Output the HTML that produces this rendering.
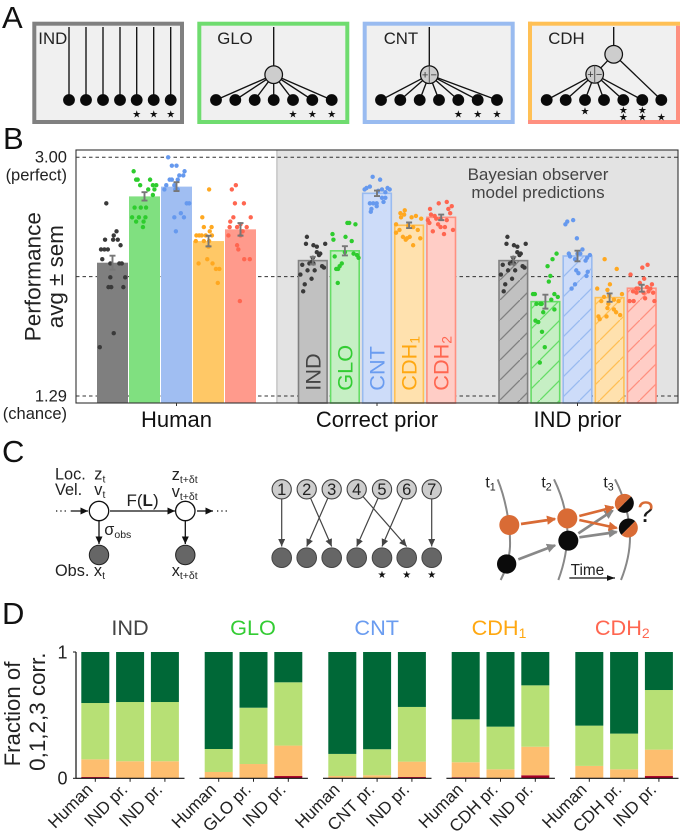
<!DOCTYPE html>
<html lang="en">
<head>
<meta charset="utf-8">
<title>Bayesian observer model figure</title>
<style>
html,body{margin:0;padding:0;background:#fff;}
svg{display:block;font-family:"Liberation Sans",sans-serif;}
</style>
</head>
<body>
<svg id="fig" xmlns="http://www.w3.org/2000/svg" width="680" height="834" viewBox="0 0 680 834">
<defs>
<marker id="ah" markerWidth="9" markerHeight="8" refX="7.5" refY="3.5" orient="auto" markerUnits="userSpaceOnUse"><path d="M0,0L7.5,3.5L0,7z" fill="#111"/></marker>
<marker id="ahd" markerWidth="9" markerHeight="8" refX="7.5" refY="3.5" orient="auto" markerUnits="userSpaceOnUse"><path d="M0,0L7.5,3.5L0,7z" fill="#444"/></marker>
<marker id="aho" markerWidth="4" markerHeight="4" refX="3" refY="1.75" orient="auto"><path d="M0,0L3.5,1.75L0,3.5z" fill="#d96b35"/></marker>
<marker id="ahg" markerWidth="4" markerHeight="4" refX="3" refY="1.75" orient="auto"><path d="M0,0L3.5,1.75L0,3.5z" fill="#888"/></marker>
<marker id="ahb" markerWidth="8" markerHeight="8" refX="7" refY="2.5" orient="auto"><path d="M0,0L7,2.5L0,5z" fill="#111"/></marker>
<linearGradient id="qgrad" x1="0" y1="0" x2="0" y2="1"><stop offset="0.38" stop-color="#d96b35"/><stop offset="0.43" stop-color="#1a1a1a"/></linearGradient>
</defs>

<g font-size="31" fill="#111">
<text x="2" y="28">A</text>
<text x="3" y="149">B</text>
<text x="2" y="462">C</text>
<text x="2" y="624">D</text>
</g>

<g id="panelA">
<rect x="34.3" y="23.7" width="147.7" height="98.3" fill="#f0f0f0" stroke="#808080" stroke-width="4"/>
<rect x="199.3" y="23.7" width="148" height="98.3" fill="#f0f0f0" stroke="#6fdc6f" stroke-width="4"/>
<rect x="364.7" y="23.7" width="148" height="98.3" fill="#f0f0f0" stroke="#99bbf0" stroke-width="4"/>
<rect x="530" y="23.7" width="148" height="98.3" fill="#f0f0f0"/>
<rect x="528" y="21.7" width="152" height="4" fill="#ffc055"/>
<rect x="528" y="21.7" width="4" height="102" fill="#ffc055"/>
<rect x="676" y="25.7" width="4" height="98" fill="#ff9080"/>
<rect x="528" y="120" width="152" height="4" fill="#ff9080"/>
<g font-size="16.8" fill="#222">
<text x="38.3" y="44">IND</text>
<text x="217.3" y="44">GLO</text>
<text x="383.7" y="44">CNT</text>
<text x="548.3" y="44">CDH</text>
</g>
</g>

<g id="panelB"></g>

<g id="panelC1" fill="#111">
<g stroke="#111" stroke-width="1.3" fill="none">
<line x1="56" y1="511" x2="68" y2="511" stroke-dasharray="1.3 3"/>
<line x1="70.7" y1="511" x2="88" y2="511" marker-end="url(#ah)"/>
<line x1="110" y1="511" x2="175" y2="511" marker-end="url(#ah)"/>
<line x1="197" y1="511" x2="213" y2="511" marker-end="url(#ah)"/>
<line x1="217" y1="511" x2="229" y2="511" stroke-dasharray="1.3 3"/>
<line x1="99" y1="521" x2="99" y2="544" marker-end="url(#ah)"/>
<line x1="185.3" y1="521" x2="185.3" y2="544" marker-end="url(#ah)"/>
</g>
<circle cx="99" cy="511" r="9.7" fill="#fff" stroke="#111" stroke-width="1.3"/>
<circle cx="185.3" cy="511" r="9.7" fill="#fff" stroke="#111" stroke-width="1.3"/>
<circle cx="99" cy="555" r="9.7" fill="#666" stroke="#222" stroke-width="1"/>
<circle cx="185.3" cy="555" r="9.7" fill="#666" stroke="#222" stroke-width="1"/>
<g font-size="16.3" fill="#222">
<text x="55" y="479.3">Loc.</text>
<text x="55" y="495">Vel.</text>
<text x="94.3" y="479.3">z<tspan font-size="10.5" dy="3">t</tspan></text>
<text x="94.3" y="495">v<tspan font-size="10.5" dy="3">t</tspan></text>
<text x="171.7" y="480">z<tspan font-size="10.5" dy="3" font-family="Liberation Sans, DejaVu Sans, sans-serif">t+δt</tspan></text>
<text x="171.7" y="497">v<tspan font-size="10.5" dy="3">t+δt</tspan></text>
<text x="126.5" y="506" font-size="17">F(<tspan font-weight="bold">L</tspan>)</text>
<text x="104.3" y="535">σ<tspan font-size="10.5" dy="3">obs</tspan></text>
<text x="55" y="576">Obs. x<tspan font-size="10.5" dy="3">t</tspan></text>
<text x="171.7" y="576">x<tspan font-size="10.5" dy="3">t+δt</tspan></text>
</g>
</g>

<g id="panelC2"></g>

<g transform="translate(250,440) scale(0.33333)">
<g fill="none" stroke="#888" stroke-width="6">
<path d="M743,118C768,180 782,260 780,320C778,360 765,395 752,420"/>
<path d="M912,118C935,165 950,215 952,270C953,330 938,385 925,420"/>
<path d="M1095,118C1120,165 1138,225 1140,285C1141,340 1125,390 1113,420"/>
</g>
<g fill="none" stroke="#888" stroke-width="8">
<line x1="805" y1="358" x2="915" y2="316" marker-end="url(#ahg)"/>
<line x1="985" y1="280" x2="1088" y2="212" marker-end="url(#ahg)"/>
<line x1="988" y1="292" x2="1100" y2="276" marker-end="url(#ahg)"/>
</g>
<g fill="none" stroke="#d96b35" stroke-width="8">
<line x1="813" y1="252" x2="915" y2="237" marker-end="url(#aho)"/>
<line x1="988" y1="228" x2="1090" y2="202" marker-end="url(#aho)"/>
<line x1="988" y1="240" x2="1100" y2="264" marker-end="url(#aho)"/>
</g>
<circle cx="778" cy="255" r="30" fill="#d96b35"/>
<circle cx="952" cy="235" r="30" fill="#d96b35"/>
<circle cx="770" cy="372" r="29" fill="#0b0b0b"/>
<circle cx="955" cy="302" r="30" fill="#0b0b0b"/>
<path d="M1102.5,210.5A29,29 0 0 1 1143.5,169.5Z" fill="#d96b35"/>
<path d="M1102.5,210.5A29,29 0 0 0 1143.5,169.5Z" fill="#0b0b0b"/>
<path d="M1114.5,284.5A29,29 0 0 1 1155.5,243.5Z" fill="#0b0b0b"/>
<path d="M1114.5,284.5A29,29 0 0 0 1155.5,243.5Z" fill="#d96b35"/>
<g font-size="48" fill="#222">
<text x="706" y="142">t<tspan font-size="32" dy="9">1</tspan></text>
<text x="874" y="142">t<tspan font-size="32" dy="9">2</tspan></text>
<text x="1060" y="142">t<tspan font-size="32" dy="9">3</tspan></text>
<text x="962" y="405" font-size="46">Time</text>
</g>
<line x1="958" y1="414" x2="1095" y2="414" stroke="#111" stroke-width="3.5" marker-end="url(#ahb)"/>
<text x="1162" y="246" font-size="88" fill="url(#qgrad)">?</text>
</g>

<g id="panelD"></g>

<script>
// ---------- Panel B data ----------
var barGroups = ['Human', 'Correct prior', 'IND prior'];
var barModels = ['IND', 'GLO', 'CNT', 'CDH1', 'CDH2'];
var meanHuman = [2.245, 2.72, 2.79, 2.40, 2.484];
var meanCorrect = [2.26, 2.33, 2.742, 2.513, 2.57];
var meanIndPrior = [2.26, 1.966, 2.293, 1.995, 2.062];
var semHuman = [0.05, 0.03, 0.032, 0.038, 0.045];
var semCorrect = [0.027, 0.033, 0.02, 0.02, 0.02];
var semIndPrior = [0.027, 0.05, 0.038, 0.03, 0.025];
var yTicks = [3.00, 2.145, 1.29];
// per-subject scatter: [jitter in bar-widths, value]
var subjHumanInd = [[-.2,2.67],[.13,2.47],[.04,2.44],[-.24,2.41],[.02,2.41],[.17,2.41],[.26,2.37],[-.37,2.34],[-.26,2.34],[-.15,2.34],[-.33,2.27],[.22,2.24],[.30,2.24],[-.07,2.24],[.41,2.14],[-.07,2.14],[-.13,2.07],[-.04,2.07],[.35,2.07],[.04,1.74],[-.41,1.64]];
var subjHumanGlo = [[-.35,2.90],[-.27,2.84],[-.22,2.84],[.18,2.84],[-.14,2.80],[.27,2.80],[.38,2.80],[.12,2.77],[.32,2.77],[.27,2.73],[-.32,2.64],[-.12,2.64],[.05,2.64],[-.40,2.57],[-.18,2.57],[.03,2.57],[-.27,2.54],[-.03,2.54],[-.05,2.50]];
var subjHumanCnt = [[-.27,3.00],[-.15,2.94],[0,2.94],[.26,2.90],[.09,2.87],[.22,2.87],[-.22,2.84],[-.15,2.84],[.04,2.84],[-.33,2.80],[-.07,2.80],[-.39,2.77],[-.04,2.77],[.04,2.77],[.33,2.67],[.41,2.67],[.14,2.60],[-.07,2.57],[.24,2.57],[-.02,2.47]];
var subjHumanCdh1 = [[.02,2.77],[-.20,2.57],[.10,2.50],[-.15,2.50],[.04,2.47],[-.39,2.44],[-.30,2.44],[-.22,2.44],[-.09,2.44],[.11,2.44],[-.41,2.40],[-.15,2.40],[.02,2.40],[0,2.36],[-.04,2.27],[-.32,2.24],[.13,2.24],[.24,2.20],[.35,2.20],[.30,2.10]];
var subjHumanCdh2 = [[-.15,2.80],[-.28,2.77],[-.18,2.67],[.11,2.67],[-.23,2.57],[.33,2.57],[-.33,2.54],[0,2.52],[-.11,2.50],[.20,2.50],[-.35,2.50],[.07,2.47],[-.39,2.44],[0,2.44],[-.11,2.37],[-.07,2.34],[.12,2.27],[.30,2.27],[-.02,1.97]];
var subjCorrectInd = [[-.19,2.43],[-.22,2.38],[.02,2.37],[.13,2.36],[.40,2.38],[.13,2.32],[.24,2.31],[.2,2.30],[0,2.28],[-.03,2.25],[-.34,2.23],[-.11,2.24],[.02,2.24],[.30,2.22],[.36,2.21],[-.40,2.16],[-.17,2.19],[.06,2.19],[-.04,2.13],[-.26,2.09],[-.31,2.04]];
var subjCorrectGlo = [[.08,2.53],[.14,2.53],[.34,2.52],[-.40,2.45],[-.37,2.41],[.02,2.43],[.22,2.40],[-.33,2.29],[0,2.32],[.28,2.31],[.39,2.30],[.44,2.28],[-.10,2.24],[-.17,2.22],[-.22,2.20],[-.28,2.20],[-.23,2.10]];
var subjCorrectCnt = [[-.14,2.86],[.10,2.84],[-.23,2.79],[-.34,2.78],[-.40,2.77],[.34,2.78],[.41,2.77],[.04,2.76],[.16,2.77],[.27,2.75],[.16,2.71],[.27,2.71],[.21,2.68],[-.01,2.67],[-.12,2.67],[-.23,2.67],[-.18,2.63],[-.01,2.65],[-.2,2.61]];
var subjCorrectCdh1 = [[-.14,2.62],[-.28,2.60],[-.16,2.59],[-.26,2.57],[.08,2.57],[.22,2.58],[.39,2.56],[-.42,2.52],[-.03,2.51],[-.31,2.48],[.13,2.50],[.28,2.48],[-.2,2.43],[-.07,2.42],[-.11,2.41],[-.42,2.46],[.36,2.42],[.02,2.43],[.13,2.37]];
var subjCorrectCdh2 = [[.18,2.68],[-.08,2.67],[.34,2.65],[-.36,2.63],[.23,2.63],[.29,2.60],[-.33,2.59],[-.21,2.58],[-.02,2.56],[-.43,2.55],[.18,2.55],[-.16,2.56],[-.38,2.53],[-.1,2.52],[.12,2.50],[.38,2.48],[-.27,2.47],[.09,2.45],[-.02,2.50]];
var subjPriorInd = [[-.19,2.43],[-.22,2.38],[.02,2.37],[.13,2.36],[.40,2.38],[.13,2.32],[.24,2.31],[.2,2.30],[0,2.28],[-.03,2.25],[-.34,2.23],[-.11,2.24],[.02,2.24],[.30,2.22],[.36,2.21],[-.40,2.16],[-.17,2.19],[.06,2.19],[-.04,2.13],[-.26,2.09],[-.31,2.04]];
var subjPriorGlo = [[.36,2.31],[.23,2.27],[.07,2.22],[.16,2.15],[.11,2.11],[-.40,2.02],[-.34,2.02],[.29,2.02],[.40,2.00],[-.29,1.95],[-.16,1.95],[.19,1.98],[-.07,1.89],[.29,1.91],[-.32,1.83],[-.23,1.82],[-.11,1.75],[-.02,1.64],[-.18,1.53],[-.12,1.95]];
var subjPriorCnt = [[-.14,2.55],[-.33,2.54],[-.39,2.52],[-.02,2.42],[.16,2.34],[-.28,2.31],[.09,2.31],[.4,2.30],[-.24,2.29],[.31,2.28],[-.08,2.27],[.26,2.26],[-.04,2.19],[.03,2.17],[.33,2.18],[.29,2.15],[-.08,2.09],[-.19,2.06],[0,2.31]];
var subjPriorCdh1 = [[-.16,2.27],[.23,2.20],[-.4,2.06],[-.07,2.05],[.01,2.09],[.4,2.02],[-.18,2.00],[-.01,2.01],[-.27,1.97],[.14,1.98],[.29,1.97],[-.04,1.95],[-.07,1.92],[.14,1.91],[.21,1.89],[-.36,1.86],[-.1,1.86],[.34,1.87],[-.32,1.84]];
var subjPriorCdh2 = [[.19,2.23],[.02,2.21],[-.36,2.16],[.08,2.13],[-.06,2.10],[.33,2.09],[.17,2.07],[-.28,2.04],[.28,2.06],[-.17,2.03],[-.11,2.06],[.37,2.03],[.11,1.99],[-.39,1.97],[-.26,1.97],[.41,1.97],[.06,2.03],[-.17,2.06],[.22,2.04]];

// ---------- Panel D data ----------
var fracGroups = ['IND', 'GLO', 'CNT', 'CDH1', 'CDH2'];
var fracLabels = [['Human','IND pr.','IND pr.'],['Human','GLO pr.','IND pr.'],['Human','CNT pr.','IND pr.'],['Human','CDH pr.','IND pr.'],['Human','CDH pr.','IND pr.']];
var frac0 = [[.01,.002,.002],[.002,.002,.018],[.003,.002,.01],[.008,.002,.024],[.004,.002,.018]];
var frac1 = [[.14,.133,.133],[.048,.111,.241],[.015,.022,.122],[.119,.069,.226],[.094,.069,.209]];
var frac2 = [[.446,.469,.469],[.182,.446,.501],[.175,.206,.433],[.34,.338,.486],[.319,.283,.472]];
var frac3 = [[.404,.396,.396],[.768,.441,.24],[.807,.77,.435],[.533,.591,.264],[.583,.646,.301]];
var fracTicks = [0, 1];

// ---------- helpers ----------
var NS = 'http://www.w3.org/2000/svg';
function make(parent, tag, attrs, txt) {
  var e = document.createElementNS(NS, tag);
  for (var k in attrs) e.setAttribute(k, attrs[k]);
  if (txt !== undefined) e.textContent = txt;
  parent.appendChild(e);
  return e;
}
var el;

// ---------- Panel A ----------
var A = document.getElementById('panelA');
var rowY = 100;
function starsAt(parent, x, y) {
  el = make(parent, 'text', {x: x, y: y + 3.6, 'font-size': 10, 'text-anchor': 'middle', fill: '#111', 'font-family': 'DejaVu Sans, sans-serif'}, '★');
  
  
}
function lineTo(parent, x1, y1, x2, y2) {
  el = make(parent, 'line', {x1: x1, y1: y1, x2: x2, y2: y2, stroke: '#111', 'stroke-width': 1.35});
  
  
}
function nodeAt(parent, x, y) {
  el = make(parent, 'circle', {cx: x, cy: y, r: 5.9, fill: '#0a0a0a'});
  
  
}
function hub(parent, x, y, signed) {
  el = make(parent, 'circle', {cx: x, cy: y, r: 8.8, fill: '#cdcdcd', stroke: '#111', 'stroke-width': 1.25});
  
  
  if (signed) {
    el = make(parent, 'line', {x1: x, y1: y - 8.8, x2: x, y2: y + 8.8, stroke: '#555', 'stroke-width': 1});
    
    
    el = make(parent, 'text', {x: x - 4.2, y: y + 3.8, 'font-size': 11, 'text-anchor': 'middle', fill: '#333'}, '+');
    
    
    el = make(parent, 'text', {x: x + 4.4, y: y + 3.8, 'font-size': 11, 'text-anchor': 'middle', fill: '#333'}, '−');
    
    
  }
}
var indX = [69, 86, 103, 120, 136.7, 153.7, 170.7];
indX.forEach(function (x) { lineTo(A, x, 27, x, rowY); });
indX.forEach(function (x, i) { nodeAt(A, x, rowY); if (i > 3) starsAt(A, x, 114); });
var gloX = [216, 235.3, 254.7, 273.7, 293, 312.3, 331.7];
lineTo(A, 273.7, 27, 273.7, 74.7);
gloX.forEach(function (x) { lineTo(A, x, rowY, 273.7, 74.7); });
hub(A, 273.7, 74.7, false);
gloX.forEach(function (x, i) { nodeAt(A, x, rowY); if (i > 3) starsAt(A, x, 114); });
var cntX = [381, 400.3, 419.7, 439, 458.3, 477.7, 497];
lineTo(A, 429.3, 27, 429.3, 74.7);
cntX.forEach(function (x) { lineTo(A, x, rowY, 429.3, 74.7); });
hub(A, 429.3, 74.7, true);
cntX.forEach(function (x, i) { nodeAt(A, x, rowY); if (i > 3) starsAt(A, x, 114); });
var cdhX = [546.7, 565.7, 585, 604, 623.3, 642.3, 661.3];
lineTo(A, 613.7, 27, 613.7, 54.3);
lineTo(A, 613.7, 54.3, 594.7, 74.3);
lineTo(A, 613.7, 54.3, 661.3, rowY);
cdhX.slice(0, 6).forEach(function (x) { lineTo(A, x, rowY, 594.7, 74.3); });
hub(A, 613.7, 54.3, false);
hub(A, 594.7, 74.3, true);
cdhX.forEach(function (x) { nodeAt(A, x, rowY); });
starsAt(A, 585, 110.7);
starsAt(A, 623.3, 110);
starsAt(A, 623.3, 116.7);
starsAt(A, 642.3, 110);
starsAt(A, 642.3, 116.7);
starsAt(A, 661.3, 116.7);

// ---------- Panel B ----------
var B = document.getElementById('panelB');
var bLeft = 76, bRight = 678, bTop = 150, bBottom = 403;
function yB(v) { return 157.3 + (3 - v) * 139.6; }
function bandCenter(g) { return [176.5, 377, 577.5][g]; }
function xBar(g, i) { return bandCenter(g) + (i - 2) * (g === 0 ? 32 : 32.1); }

var hues = [
  {solid: '#7f7f7f', light: '#c1c1c1', edge: '#808080', dot: '#3a3a3a', corr: '#555555', text: '#444444'},
  {solid: '#80e080', light: '#c6efc4', edge: '#66dd66', dot: '#2ecc2e', corr: '#44cc44', text: '#33cc33'},
  {solid: '#a0bef2', light: '#cddcf9', edge: '#99bbf0', dot: '#6699ee', corr: '#77a3ee', text: '#6a9cf0'},
  {solid: '#ffc866', light: '#ffe1ae', edge: '#ffc055', dot: '#ffa820', corr: '#ffb030', text: '#ffa811'},
  {solid: '#ff9a8c', light: '#ffcdc6', edge: '#ff9080', dot: '#ff6650', corr: '#ff7a68', text: '#ff6650'}
];
var defs = document.querySelector('defs');
hues.forEach(function (h, i) {
  var p = make(defs, 'pattern', {id: 'hatch' + i, patternUnits: 'userSpaceOnUse', width: 20, height: 20});
  make(p, 'rect', {x: 0, y: 0, width: 20, height: 20, fill: h.light});
  make(p, 'path', {d: 'M-2,22L22,-2', stroke: h.edge, 'stroke-width': 1.3, fill: 'none'});
});

el = make(B, 'rect', {x: 277, y: bTop, width: bRight - 277, height: bBottom - bTop, fill: '#e3e3e3'});


el = make(B, 'line', {x1: 277, y1: bTop, x2: 277, y2: bBottom, stroke: '#cfcfcf', 'stroke-width': 2});



yTicks.forEach(function (t) {
  el = make(B, 'line', {x1: bLeft, y1: yB(t), x2: bRight, y2: yB(t), stroke: '#333', 'stroke-width': 1, 'stroke-dasharray': '3.5 3'});
  
  
});
var subjects = [
  [subjHumanInd, subjHumanGlo, subjHumanCnt, subjHumanCdh1, subjHumanCdh2],
  [subjCorrectInd, subjCorrectGlo, subjCorrectCnt, subjCorrectCdh1, subjCorrectCdh2],
  [subjPriorInd, subjPriorGlo, subjPriorCnt, subjPriorCdh1, subjPriorCdh2]
];
var means = [meanHuman, meanCorrect, meanIndPrior];
var sems = [semHuman, semCorrect, semIndPrior];
barGroups.forEach(function (name, g) {
  barModels.forEach(function (m, i) {
    var h = hues[i], cx = xBar(g, i), top = yB(means[g][i]);
    var attrs;
    if (g === 0) attrs = {x: cx - 15.5, y: top, width: 31, height: bBottom - top, fill: h.solid};
    else attrs = {x: cx - 14.3, y: top, width: 28.6, height: bBottom - top, fill: g === 1 ? h.light : 'url(#hatch' + i + ')', stroke: h.edge, 'stroke-width': 1.6};
    el = make(B, 'rect', attrs);
    
    
  });
});
barGroups.forEach(function (name, g) {
  barModels.forEach(function (m, i) {
    var cx = xBar(g, i), w = 31;
    subjects[g][i].forEach(function (p) {
      el = make(B, 'circle', {cx: cx + p[0] * w, cy: yB(p[1]), r: 2.2, fill: hues[i].dot});
      
      
    });
    var mv = means[g][i], s = sems[g][i];
    var d = 'M' + (cx - 3) + ',' + yB(mv + s) + 'H' + (cx + 3) + 'M' + cx + ',' + yB(mv + s) + 'V' + yB(mv - s) + 'M' + (cx - 3) + ',' + yB(mv - s) + 'H' + (cx + 3);
    el = make(B, 'path', {d: d, stroke: '#777', 'stroke-width': 1.9, fill: 'none'});
    
    
  });
});
el = make(B, 'rect', {x: bLeft, y: bTop, width: bRight - bLeft, height: bBottom - bTop, fill: 'none', stroke: '#333', 'stroke-width': 1.1});



barGroups.forEach(function (name, g) {
  var c = bandCenter(g);
  el = make(B, 'line', {x1: c, y1: bBottom, x2: c, y2: bBottom + 3, stroke: '#333', 'stroke-width': 1});
  
  
  el = make(B, 'text', {x: c, y: 427, 'font-size': 22, 'text-anchor': 'middle', fill: '#111'}, name);
  
  
});
barModels.forEach(function (m, i) {
  var cx = xBar(1, i) + 7.5;
  var t = make(B, 'text', {transform: 'translate(' + cx + ',390.7) rotate(-90)', 'font-size': 21.7, fill: hues[i].text});
  
  
  var base = m.replace(/\d/, ''), sub = m.replace(/\D/g, '');
  t.appendChild(document.createTextNode(base));
  if (sub) make(t, 'tspan', {'font-size': 14, dy: 3}, sub);
});

function bText(x, y, size, anchor, s, name, fill) {
  el = make(B, 'text', {x: x, y: y, 'font-size': size, 'text-anchor': anchor, fill: fill || '#222'}, s);
  
  
}
bText(67, 162.7, 16.5, 'end', yTicks[0].toFixed(2), 'y-tick-perfect');
bText(67, 180.7, 16.5, 'end', '(perfect)', 'y-tick-perfect-note');
bText(67, 401.7, 16.5, 'end', yTicks[2].toFixed(2), 'y-tick-chance');
bText(67, 419, 16.5, 'end', '(chance)', 'y-tick-chance-note');
bText(538, 180, 17, 'middle', 'Bayesian observer', 'model-note-line-1', '#444');
bText(538, 198, 17, 'middle', 'model predictions', 'model-note-line-2', '#444');
el = make(B, 'text', {transform: 'translate(40.7,276.7) rotate(-90)', 'font-size': 22.6, 'text-anchor': 'middle', fill: '#222'}, 'Performance');


el = make(B, 'text', {transform: 'translate(63,276.7) rotate(-90)', 'font-size': 22.4, 'text-anchor': 'middle', fill: '#222'}, 'avg ± sem');



// ---------- Panel C assignment ----------
var C2 = document.getElementById('panelC2');
var assignX = [281.7, 306.7, 331.7, 356.7, 382, 406.7, 431.7];
var assignTarget = [0, 2, 1, 5, 3, 4, 6];
assignX.forEach(function (x, i) {
  var tx = assignX[assignTarget[i]];
  var dx = tx - x, dy = 546.5 - 489.3, len = Math.sqrt(dx * dx + dy * dy);
  el = make(C2, 'line', {x1: x + dx / len * 9.7, y1: 489.3 + dy / len * 9.7, x2: tx, y2: 546.5, stroke: '#444', 'stroke-width': 1.2, 'marker-end': 'url(#ahd)'});
  
  
});
assignX.forEach(function (x, i) {
  el = make(C2, 'circle', {cx: x, cy: 489.3, r: 9.6, fill: '#cdcdcd', stroke: '#444', 'stroke-width': 1.1});
  
  
  el = make(C2, 'text', {x: x, y: 495.2, 'font-size': 16.5, 'text-anchor': 'middle', fill: '#222'}, String(i + 1));
  
  
  el = make(C2, 'circle', {cx: x, cy: 557.7, r: 9.8, fill: '#666', stroke: '#444', 'stroke-width': 1});
  
  
  if (i > 3) starsAt(C2, x, 574.3);
});

// ---------- Panel D ----------
var D = document.getElementById('panelD');
var dY0 = 778.3, dH = 126.3, barW = 28;
function yD(f) { return dY0 - f * dH; }
var groupLeft = [81.3, 204.7, 328.3, 451.7, 575.3];
var groupStep = 34.8;
var titleX = [130, 253, 376.7, 499, 622.3];
var stackColors = ['#a50026', '#fdbe6f', '#b7e075', '#006837'];
fracGroups.forEach(function (name, g) {
  var base = name.replace(/\d/, ''), sub = name.replace(/\D/g, '');
  var t = make(D, 'text', {x: titleX[g], y: 635, 'font-size': 21.7, 'text-anchor': 'middle', fill: hues[g].text});
  
  
  t.appendChild(document.createTextNode(base));
  if (sub) make(t, 'tspan', {'font-size': 14, dy: 3}, sub);

  fracLabels[g].forEach(function (lab, b) {
    var x = groupLeft[g] + b * groupStep;
    var parts = [frac0[g][b], frac1[g][b], frac2[g][b], frac3[g][b]];
    var cum = 0;
    parts.forEach(function (p, s) {
      el = make(D, 'rect', {x: x, y: yD(cum + p), width: barW, height: p * dH, fill: stackColors[s]});
      
      
      cum += p;
    });
    var c = x + barW / 2;
    el = make(D, 'line', {x1: c, y1: dY0, x2: c, y2: dY0 + 3.5, stroke: '#222', 'stroke-width': 1});
    
    
    el = make(D, 'text', {transform: 'translate(' + (c - 1.5) + ',790.5) rotate(-45)', 'font-size': 17, 'text-anchor': 'end', fill: '#222'}, lab);
    
    
  });
  var ax0 = groupLeft[g] - 5.3;
  el = make(D, 'line', {x1: ax0, y1: dY0, x2: ax0 + 108.5, y2: dY0, stroke: '#111', 'stroke-width': 1.2});
  
  
});
el = make(D, 'line', {x1: 76, y1: yD(1), x2: 76, y2: dY0, stroke: '#111', 'stroke-width': 1.2});


fracTicks.forEach(function (t) {
  el = make(D, 'line', {x1: 73, y1: yD(t), x2: 76, y2: yD(t), stroke: '#111', 'stroke-width': 1});
  
  
  el = make(D, 'text', {x: 67.5, y: yD(t) + 6.3, 'font-size': 18, 'text-anchor': 'end', fill: '#222'}, String(t));
  
  
});
el = make(D, 'text', {transform: 'translate(20,714) rotate(-90)', 'font-size': 22.2, 'text-anchor': 'middle', fill: '#222'}, 'Fraction of');


el = make(D, 'text', {transform: 'translate(45,711.7) rotate(-90)', 'font-size': 22.4, 'text-anchor': 'middle', fill: '#222'}, '0,1,2,3 corr.');


</script>
</svg>
</body>
</html>
